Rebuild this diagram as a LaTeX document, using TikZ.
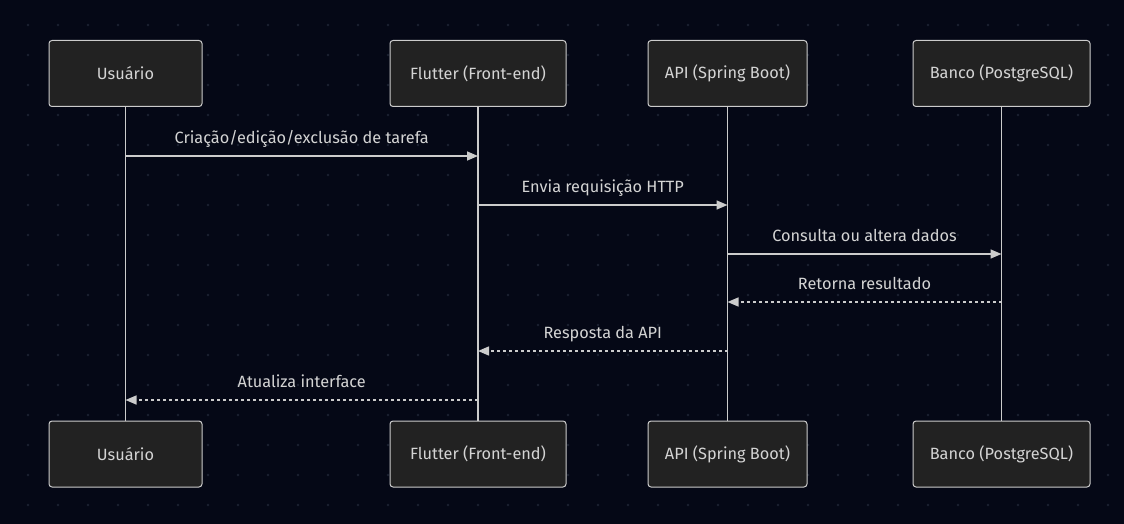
\documentclass[tikz,border=0pt]{standalone}
\usepackage{fontspec}
\setmainfont{Fira Sans}
\usetikzlibrary{arrows.meta}
\definecolor{bgnavy}{HTML}{050816}
\definecolor{gridgray}{HTML}{1C2131}
\definecolor{boxfill}{HTML}{222222}
\definecolor{linegray}{HTML}{CCCCCC}
\definecolor{textgray}{HTML}{D4D4D4}
\begin{document}
\begin{tikzpicture}[
x=1pt, y=-1pt,
actor/.style = {draw=linegray, fill=boxfill, rounded corners=3pt, line width=1pt,
                minimum width=#1, minimum height=66pt, inner sep=0pt,
                text=textgray, font=\fontsize{16.3}{19}\selectfont},
life/.style  = {draw=linegray, line width=1.5pt},
msg/.style   = {draw=linegray, line width=1.5pt, -{Triangle[length=11pt,width=9pt]}},
reply/.style = {msg, dash pattern=on 3pt off 3pt},
lbl/.style   = {pos=0.5, anchor=base, yshift=13pt, inner sep=0pt,
                text=textgray, font=\fontsize{16.3}{19}\selectfont}
                        ]
\useasboundingbox (0,0) rectangle (1124,524);
\fill[bgnavy] (0,0) rectangle (1124,524);
%
    \foreach \x in {28,58,...,1108}
{
    \foreach \y in {25,55,...,505}
        \fill[gridgray] (\x,\y) circle (1.3pt);
}
% participants, top and bottom
\node[actor=153pt] (usrT) at ( 125.5,73.5) {Usuário};
\node[actor=176pt] (fltT) at ( 478,  73.5) {Flutter (Front-end)};
\node[actor=159pt] (apiT) at ( 727.5,73.5) {API (Spring Boot)};
\node[actor=177pt] (dbT)  at (1001.5,73.5) {Banco (PostgreSQL)};
\node[actor=153pt] (usrB) at ( 125.5,454)  {Usuário};
\node[actor=176pt] (fltB) at ( 478,  454)  {Flutter (Front-end)};
\node[actor=159pt] (apiB) at ( 727.5,454)  {API (Spring Boot)};
\node[actor=177pt] (dbB)  at (1001.5,454)  {Banco (PostgreSQL)};
%
\draw[life] (usrT) -- (usrB);
\draw[life] (fltT) -- (fltB);
\draw[life] (apiT) -- (apiB);
\draw[life] (dbT)  -- (dbB);
% message rows
\coordinate (m1) at (0,156);
\coordinate (m2) at (0,205);
\coordinate (m3) at (0,254);
\coordinate (m4) at (0,302);
\coordinate (m5) at (0,351);
\coordinate (m6) at (0,400);
%
\draw[msg]   (usrT |- m1) -- node[lbl] {Criação/edição/exclusão de tarefa} (fltT |- m1);
\draw[msg]   (fltT |- m2) -- node[lbl] {Envia requisição HTTP} (apiT |- m2);
\draw[msg]   (apiT |- m3) -- node[lbl] {Consulta ou altera dados} (dbT |- m3);
\draw[reply] (dbT |- m4)  -- node[lbl] {Retorna resultado} (apiT |- m4);
\draw[reply] (apiT |- m5) -- node[lbl] {Resposta da API} (fltT |- m5);
\draw[reply] (fltT |- m6) -- node[lbl] {Atualiza interface} (usrT |- m6);

\end{tikzpicture}
\end{document}
